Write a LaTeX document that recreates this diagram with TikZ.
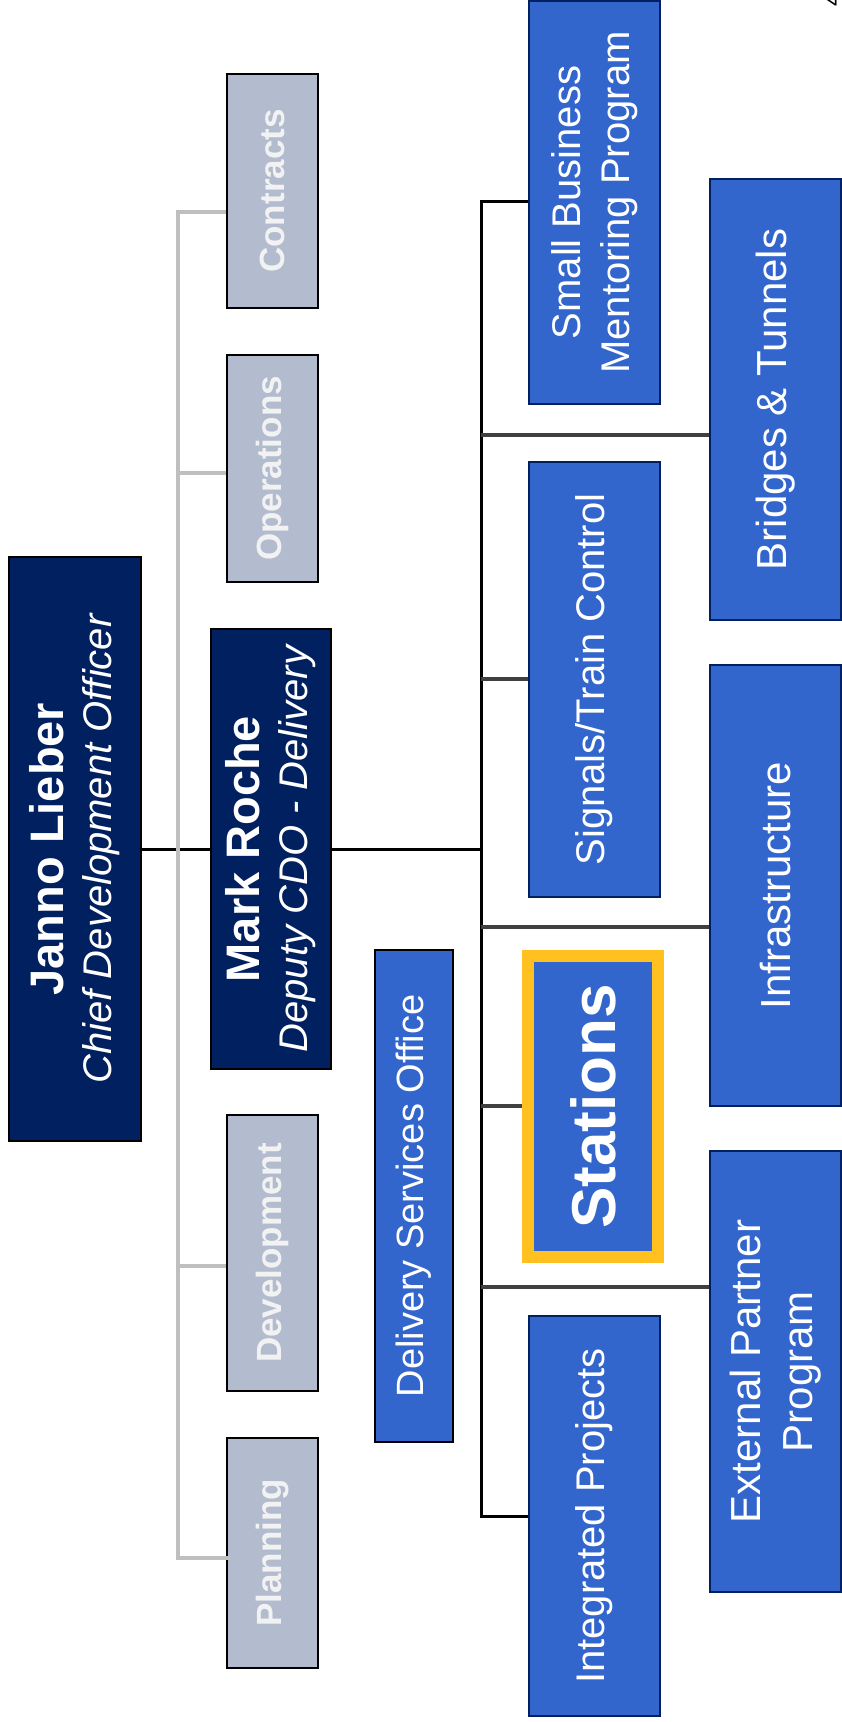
\documentclass[tikz,border=0pt]{standalone}
\usepackage{fontspec}
\setmainfont{Liberation Sans}
\definecolor{navy}{RGB}{0,32,96}
\definecolor{unitblue}{RGB}{51,102,204}
\definecolor{staffgray}{RGB}{179,188,207}
\definecolor{textgray}{RGB}{242,242,242}
\definecolor{stationgold}{RGB}{255,192,32}
\definecolor{linegray}{RGB}{191,191,191}
\definecolor{darkline}{RGB}{64,64,64}

\begin{document}
\begin{tikzpicture}[x=1pt, y=-1pt]
		\tikzset{vertex/.style = {rotate=90, align=center, inner sep=0pt, text=white, line width=1.5pt}}
		\tikzset{head/.style = {vertex, draw=black, fill=navy, font=\fontsize{40}{48}\selectfont}}
		\tikzset{staff/.style = {vertex, draw=black, fill=staffgray, text=textgray, font=\fontsize{35}{42}\selectfont\bfseries}}
		\tikzset{unit/.style = {vertex, draw=navy, fill=unitblue, font=\fontsize{40}{49}\selectfont}}
		\tikzset{edge/.style = {black, line width=3pt}}
		
		\useasboundingbox (0,0) rectangle (842,1722);
		
		\node[head, minimum width=584pt, minimum height=132pt] (1) at (  75,  849) {{\fontsize{47}{48}\selectfont\bfseries Janno Lieber}\\{\itshape Chief Development Officer}};
		\node[head, minimum width=440pt, minimum height=120pt] (2) at ( 271,  849) {{\fontsize{47}{48}\selectfont\bfseries Mark Roche}\\{\itshape Deputy CDO - Delivery}};
		
		\node[staff, minimum width=234pt, minimum height=91pt] (3) at (272.5,  191) {Contracts};
		\node[staff, minimum width=227pt, minimum height=91pt] (4) at (272.5, 468.5) {Operations};
		\node[staff, minimum width=276pt, minimum height=91pt] (5) at (272.5, 1253) {Development};
		\node[staff, minimum width=230pt, minimum height=91pt] (6) at (272.5, 1553) {Planning};
		
		\node[unit, draw=black, minimum width=492pt, minimum height=78pt, font=\fontsize{38}{46}\selectfont] (7) at ( 414, 1196) {Delivery Services Office};
		
		\node[unit, minimum width=403pt, minimum height=131pt] (8) at (594.5, 202.5) {Small Business\\Mentoring Program};
		\node[unit, minimum width=435pt, minimum height=131pt] (9) at (594.5, 679.5) {Signals/Train Control};
		\node[unit, draw=stationgold, line width=12pt, minimum width=301pt, minimum height=130pt, font=\fontsize{62}{70}\selectfont\bfseries] (10) at ( 593, 1106.5) {Stations};
		\node[unit, minimum width=400pt, minimum height=131pt] (11) at (594.5, 1516) {Integrated Projects};
		
		\node[unit, minimum width=441pt, minimum height=131pt, font=\fontsize{42}{52}\selectfont] (12) at (775.5, 399.5) {Bridges \& Tunnels};
		\node[unit, minimum width=441pt, minimum height=131pt, font=\fontsize{42}{52}\selectfont] (13) at (775.5, 885.5) {Infrastructure};
		\node[unit, minimum width=441pt, minimum height=131pt, font=\fontsize{42}{52}\selectfont] (14) at (775.5, 1371.5) {External Partner\\Program};
		
		\node[rotate=90, inner sep=0pt, font=\fontsize{24}{24}\selectfont] (15) at ( 832,    0) {4};
		
		\coordinate (t8)  at (481,  201);
		\coordinate (t12) at (481,  435);
		\coordinate (t9)  at (481,  679);
		\coordinate (t2)  at (481,  849);
		\coordinate (t13) at (481,  927);
		\coordinate (t10) at (481, 1106);
		\coordinate (t14) at (481, 1287);
		\coordinate (t11) at (481, 1516);
		
		\draw[edge] (1) to (2);
		\draw[edge] (2) to (t2);
		\draw[edge] (t8 -| 8.north) -- (t8) -- (t11) -- (t11 -| 11.north);
		
		\tikzset{edge/.style = {darkline, line width=3.5pt}}
		\draw[edge] (t12) to (t12 -| 12.north);
		\draw[edge] (t9)  to (t9 -| 9.north);
		\draw[edge] (t13) to (t13 -| 13.north);
		\draw[edge] (t10) to (t10 -| 10.north);
		\draw[edge] (t14) to (t14 -| 14.north);
		
		\coordinate (g3) at (178,  212);
		\coordinate (g4) at (178,  473);
		\coordinate (g5) at (178, 1266);
		\coordinate (g6) at (178, 1558);
		
		\tikzset{edge/.style = {linegray, line width=4pt}}
		\draw[edge] (g3 -| 3.north) -- (g3) -- (g6) -- ([xshift=5pt]g6 -| 6.north);
		\draw[edge] (g4) to (g4 -| 4.north);
		\draw[edge] (g5) to (g5 -| 5.north);
\end{tikzpicture}
\end{document}
